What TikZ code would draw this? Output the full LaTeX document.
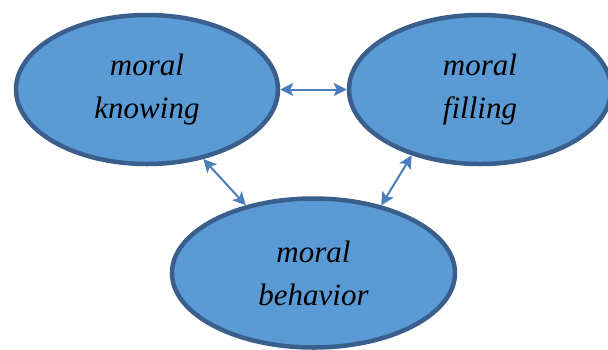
\documentclass[tikz,border=0pt]{standalone}
\usepackage{fontspec}
\setmainfont{Liberation Serif}
\usetikzlibrary{shapes.geometric,arrows.meta}
\definecolor{ovalFill}{HTML}{5B9BD5}
\definecolor{ovalLine}{HTML}{3A5F8C}
\definecolor{arrowLine}{HTML}{4A7EBB}
\begin{document}
\begin{tikzpicture}
[x=1pt,y=-1pt,
  lineDecorate/.style={{Stealth[length=13pt,width=13pt,inset=3pt]}-{Stealth[length=13pt,width=13pt,inset=3pt]},line width=2pt,draw=arrowLine},%
  nodeDecorate/.style={shape=ellipse,inner sep=0pt,draw=ovalLine,fill=ovalFill,line width=4.5pt,
    align=center,font=\fontsize{31}{43}\selectfont\itshape}]
\useasboundingbox (0,0) rectangle (608,349);
%% nodes or vertices
\foreach \nodename/\x/\y/\w/\first/\second in {
  know/147/89.5/262/moral/knowing, fill/480/89.5/262/moral/filling,
  behav/313.5/273/283/moral/behavior}
{
  \node (\nodename) at (\x,\y) [nodeDecorate,minimum width=\w pt,minimum height=149pt] {\first\\\second};
}
%% edges or lines
\path
\foreach \startnode/\endnode in {
  know.east/fill.west, know.309/behav.135, fill.224/behav.45}
{
  (\startnode) edge[lineDecorate] (\endnode)
};
\end{tikzpicture}
\end{document}
